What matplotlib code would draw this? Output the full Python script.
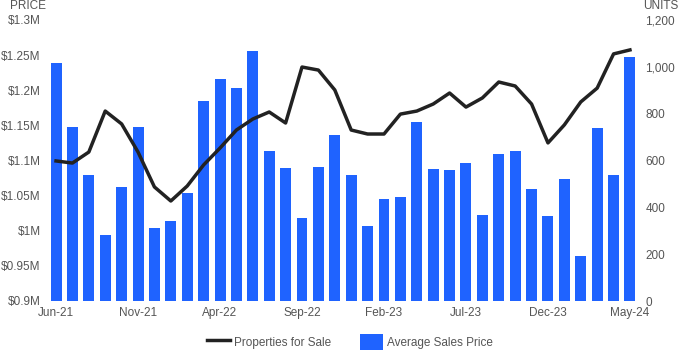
import numpy as np
import matplotlib.pyplot as plt

plt.rcParams['font.family'] = ['Liberation Sans', 'DejaVu Sans']

months = ["Jun-21", "Jul-21", "Aug-21", "Sep-21", "Oct-21", "Nov-21", "Dec-21", "Jan-22",
          "Feb-22", "Mar-22", "Apr-22", "May-22", "Jun-22", "Jul-22", "Aug-22", "Sep-22",
          "Oct-22", "Nov-22", "Dec-22", "Jan-23", "Feb-23", "Mar-23", "Apr-23", "May-23",
          "Jun-23", "Jul-23", "Aug-23", "Sep-23", "Oct-23", "Nov-23", "Dec-23", "Jan-24",
          "Feb-24", "Mar-24", "Apr-24", "May-24"]

# average sales price, $M
price = [1.239, 1.148, 1.079, 0.994, 1.062, 1.148, 1.004, 1.014, 1.054, 1.185, 1.216, 1.203,
         1.256, 1.114, 1.089, 1.018, 1.091, 1.136, 1.079, 1.007, 1.045, 1.048, 1.155, 1.088,
         1.087, 1.096, 1.022, 1.109, 1.114, 1.059, 1.021, 1.074, 0.964, 1.146, 1.079, 1.247]

# properties for sale, units
units = [598, 589, 636, 811, 756, 636, 487, 427, 491, 581, 653, 730,
         777, 807, 760, 999, 986, 901, 730, 713, 713, 798, 811, 841,
         888, 828, 867, 935, 918, 841, 675, 752, 850, 909, 1055, 1072]

price_ticks = [0.9, 0.95, 1.0, 1.05, 1.1, 1.15, 1.2, 1.25, 1.3]
price_labels = ["$0.9M", "$0.95M", "$1M", "$1.05M", "$1.1M", "$1.15M", "$1.2M", "$1.25M", "$1.3M"]
unit_ticks = [0, 200, 400, 600, 800, 1000, 1200]
unit_labels = ["0", "200", "400", "600", "800", "1,000", "1,200"]

grey = '#555555'
blue = '#1F63FF'

fig = plt.figure(figsize=(7, 3.5), dpi=100)
ax = fig.add_axes([0.066, 0.14, 0.848, 0.803])
x = np.arange(len(months))
bars = ax.bar(x, price, width=0.67, color=blue, zorder=2)
ax.set_ylim(0.9, 1.3)
ax.set_xlim(-0.6, len(months) - 0.4)
ax.set_yticks(price_ticks)
ax.set_yticklabels(price_labels)
ax.set_xticks(x[::5])
ax.set_xticklabels(months[::5])

ax2 = ax.twinx()
line, = ax2.plot(x, units, color='#222222', lw=2.5, solid_joinstyle='round')
ax2.set_ylim(0, 1200)
ax2.set_yticks(unit_ticks)
ax2.set_yticklabels(unit_labels)

for a in (ax, ax2):
    for s in a.spines.values():
        s.set_visible(False)
    a.tick_params(length=0, labelsize=8.5, colors=grey, pad=4)

fig.text(0.014, 1.0, "PRICE", color=grey, fontsize=8.5, va='top')
fig.text(0.919, 1.0, "UNITS", color=grey, fontsize=8.5, va='top')

fig.legend([line, bars], ["Properties for Sale", "Average Sales Price"],
           loc='lower center', bbox_to_anchor=(0.5, -0.03), ncol=2, frameon=False,
           fontsize=8.5, labelcolor=grey, handlelength=1.9, handleheight=1.7,
           handletextpad=0.35, columnspacing=2.5)

fig.savefig('out.png', dpi=100)
